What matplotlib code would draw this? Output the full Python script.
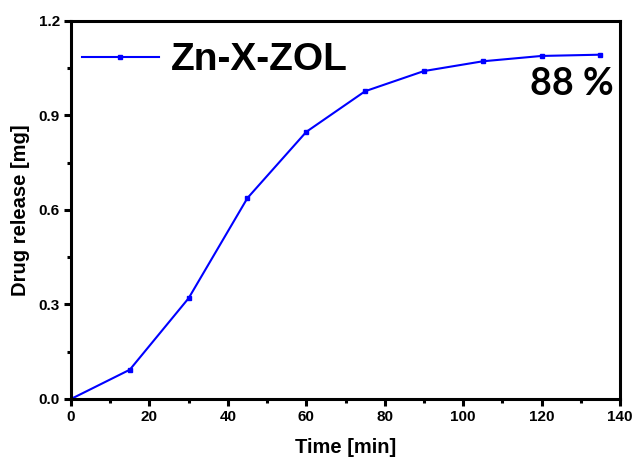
import numpy as np
import matplotlib.pyplot as plt
from matplotlib.ticker import MultipleLocator

# release data
time_min = [0, 15, 30, 45, 60, 75, 90, 105, 120, 135]
release_mg = [0.0, 0.093, 0.32, 0.638, 0.848, 0.977, 1.041, 1.072, 1.089, 1.093]
series_label = 'Zn-X-ZOL'
percent_text = '88 %'

plt.rcParams['font.family'] = ['Liberation Sans', 'DejaVu Sans']
plt.rcParams['font.weight'] = 'bold'

fig = plt.figure(figsize=(6.35, 4.61), dpi=100)
ax = fig.add_axes([0.1118, 0.1345, 0.8646, 0.82])

ax.plot(time_min, release_mg, color='#0000ff', lw=1.5, marker='s', ms=3,
        label=series_label)

ax.set_xlim(0, 140)
ax.set_ylim(0, 1.2)
ax.xaxis.set_major_locator(MultipleLocator(20))
ax.xaxis.set_minor_locator(MultipleLocator(10))
ax.yaxis.set_major_locator(MultipleLocator(0.3))
ax.yaxis.set_minor_locator(MultipleLocator(0.15))
ax.yaxis.set_major_formatter(plt.FuncFormatter(lambda v, p: f'{v:.1f}'))

for s in ax.spines.values():
    s.set_linewidth(2.2)
ax.tick_params(which='major', direction='out', length=5, width=2.2,
               labelsize=11, pad=3)
ax.tick_params(which='minor', direction='out', length=3, width=2.2)
for lab in ax.get_xticklabels() + ax.get_yticklabels():
    lab.set_fontweight('bold')

ax.set_xlabel('Time [min]', fontsize=14.5, fontweight='bold', labelpad=10)
ax.set_ylabel('Drug release [mg]', fontsize=14.5, fontweight='bold', labelpad=6)

leg = ax.legend(loc='upper left', bbox_to_anchor=(-0.009, 0.985),
                frameon=False, handlelength=2.0, handletextpad=0.3,
                borderaxespad=0, prop={'size': 28, 'weight': 'bold'})

ax.text(138.3, 0.965, percent_text, ha='right', va='baseline', fontsize=27,
        fontweight='bold', family=['Lato', 'DejaVu Sans'])

fig.savefig('out.png', dpi=100)
